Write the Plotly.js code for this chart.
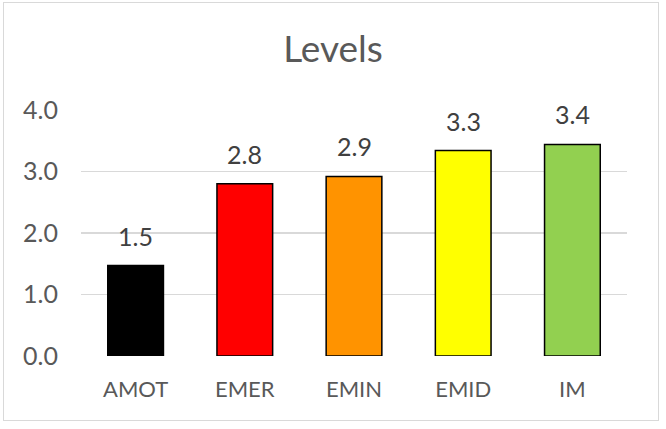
<!DOCTYPE html>
<html>
<head>
<meta charset="utf-8">
<script src="https://cdn.plot.ly/plotly-3.0.1.min.js"></script>
<style>
  html, body { margin: 0; padding: 0; background: #fff; }
  #wrap { position: relative; width: 666px; height: 429px; }
  #chart { position: absolute; left: 0; top: 0; width: 666px; height: 429px; }
  #frame { position: absolute; left: 3px; top: 2px; width: 654px; height: 417px; border: 1.5px solid #D9D9D9; pointer-events: none; }
</style>
</head>
<body>
<div id="wrap"><div id="chart"></div><div id="frame"></div></div>
<script>
const categories = ["AMOT", "EMER", "EMIN", "EMID", "IM"];
const values = [1.47, 2.80, 2.92, 3.34, 3.44];
const barColors = ["#000000", "#FF0000", "#FF9300", "#FFFF00", "#92D050"];
const yTickValues = [0, 1, 2, 3, 4];
const yTickLabels = ["0.0", "1.0", "2.0", "3.0", "4.0"];

const FONT = "Lato, 'Open Sans', sans-serif";
const GREY = "#595959";

const trace = {
  type: "bar",
  x: categories,
  y: values,
  width: 0.51,
  marker: { color: barColors, line: { color: "#000000", width: 1.5 } },
  hoverinfo: "skip"
};

const annotations = categories.map((c, i) => ({
  x: c, y: values[i], xref: "x", yref: "y",
  text: values[i].toFixed(1),
  showarrow: false, yanchor: "bottom", yshift: 13,
  font: { family: FONT, size: 25, color: "#404040" }
}));

const layout = {
  width: 666, height: 429,
  margin: { l: 81, r: 39, t: 110, b: 73 },
  paper_bgcolor: "#ffffff", plot_bgcolor: "#ffffff",
  showlegend: false,
  title: {
    text: "Levels",
    font: { family: FONT, size: 37, color: GREY },
    x: 0.5, xanchor: "center", xref: "container",
    y: 1 - 49 / 429, yref: "container", yanchor: "middle"
  },
  xaxis: {
    type: "category",
    tickfont: { family: FONT, size: 22, color: GREY },
    showgrid: false, zeroline: false, showline: false, ticks: "",
    ticklabelstandoff: 18
  },
  yaxis: {
    range: [0, 4],
    tickvals: yTickValues, ticktext: yTickLabels,
    tickfont: { family: FONT, size: 25, color: GREY },
    showgrid: true, gridcolor: "#D9D9D9", gridwidth: 1.5,
    zeroline: false, showline: false, ticks: "",
    ticklabelstandoff: 22
  },
  annotations: annotations
};

Plotly.newPlot("chart", [trace], layout, { displayModeBar: false, staticPlot: true });
</script>
</body>
</html>
